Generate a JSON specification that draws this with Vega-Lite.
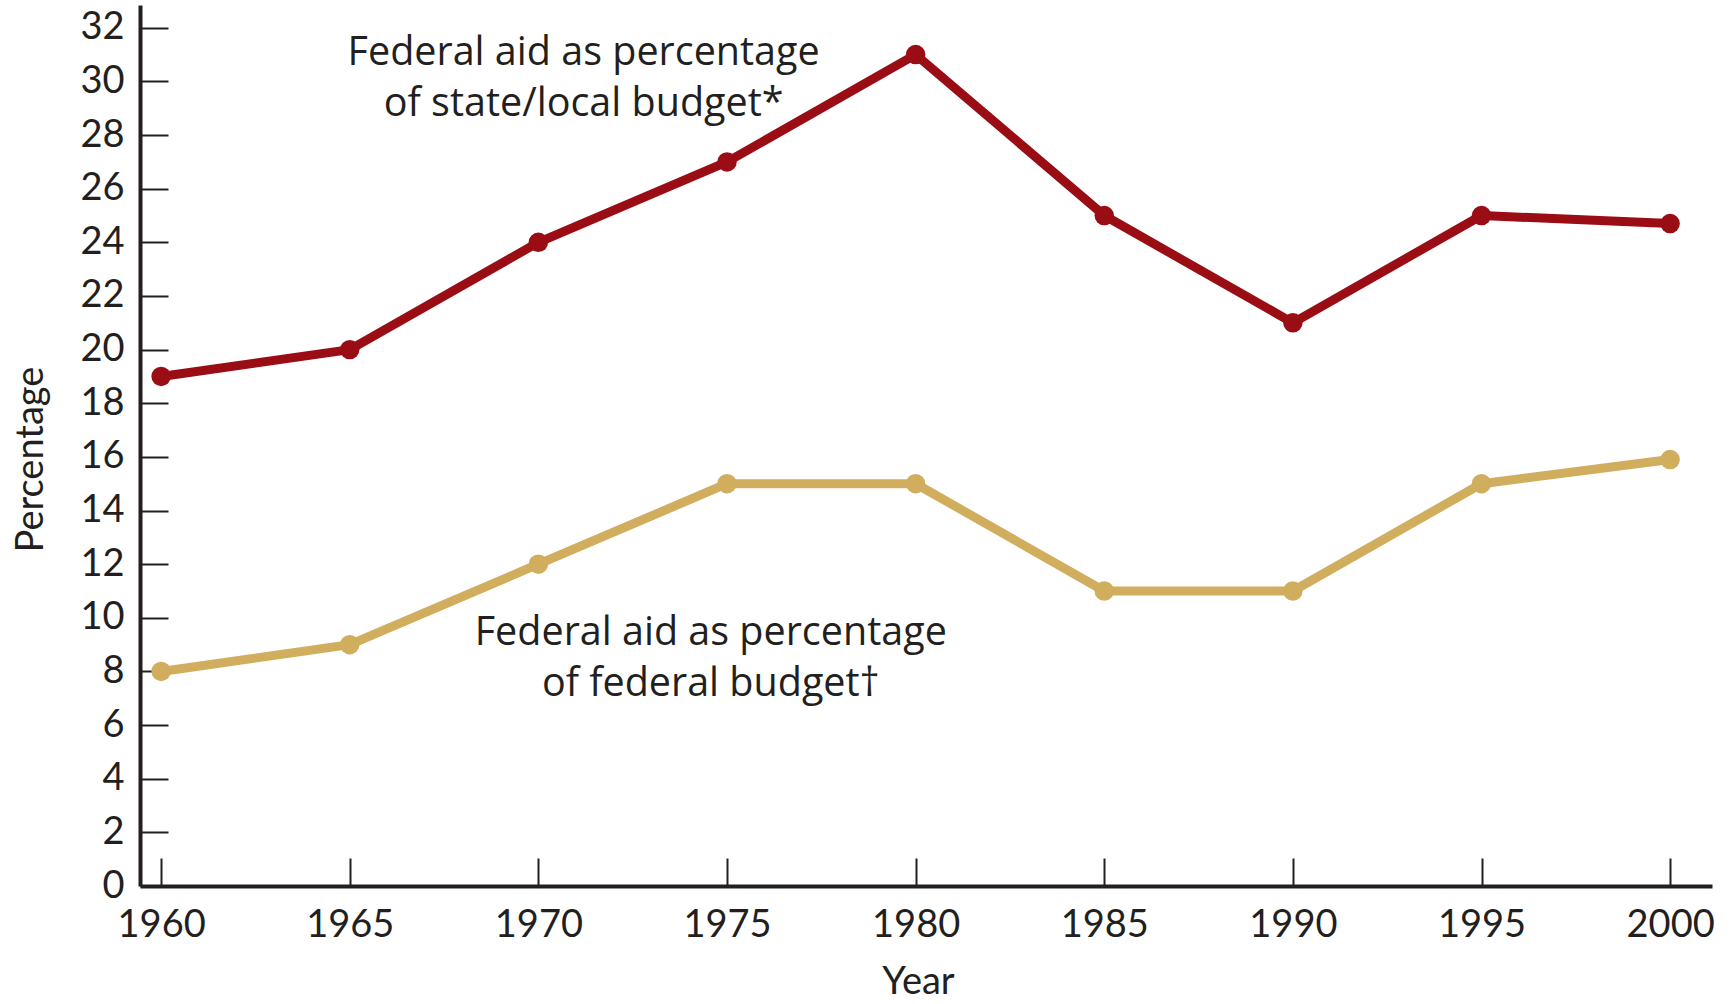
{
  "$schema": "https://vega.github.io/schema/vega-lite/v6.json",
  "autosize": {"type": "none"},
  "padding": {"left": 140, "top": 5, "right": 23, "bottom": 118},
  "width": 1572,
  "height": 881,
  "background": "white",
  "config": {
    "view": {"stroke": null},
    "font": "Lato",
    "axis": {"grid": false}
  },
  "datasets": {
    "series": [
      {"year": 1960, "pct": 19, "series": "state"},
      {"year": 1965, "pct": 20, "series": "state"},
      {"year": 1970, "pct": 24, "series": "state"},
      {"year": 1975, "pct": 27, "series": "state"},
      {"year": 1980, "pct": 31, "series": "state"},
      {"year": 1985, "pct": 25, "series": "state"},
      {"year": 1990, "pct": 21, "series": "state"},
      {"year": 1995, "pct": 25, "series": "state"},
      {"year": 2000, "pct": 24.7, "series": "state"},
      {"year": 1960, "pct": 8, "series": "federal"},
      {"year": 1965, "pct": 9, "series": "federal"},
      {"year": 1970, "pct": 12, "series": "federal"},
      {"year": 1975, "pct": 15, "series": "federal"},
      {"year": 1980, "pct": 15, "series": "federal"},
      {"year": 1985, "pct": 11, "series": "federal"},
      {"year": 1990, "pct": 11, "series": "federal"},
      {"year": 1995, "pct": 15, "series": "federal"},
      {"year": 2000, "pct": 15.9, "series": "federal"}
    ],
    "labels": [
      {"year": 1971.2, "pct": 31.05, "label": "Federal aid as percentage\nof state/local budget*"},
      {"year": 1974.57, "pct": 9.45, "label": "Federal aid as percentage\nof federal budget†"}
    ]
  },
  "encoding": {
    "x": {
      "field": "year", "type": "quantitative",
      "scale": {"domain": [1959.44, 2001.11], "nice": false, "zero": false},
      "axis": {
        "title": "Year",
        "values": [1960, 1965, 1970, 1975, 1980, 1985, 1990, 1995, 2000],
        "format": "d",
        "domainColor": "#231f20", "domainWidth": 4,
        "tickColor": "#231f20", "tickWidth": 2, "tickSize": -28,
        "labelFont": "Lato", "labelFontSize": 38, "labelColor": "#231f20",
        "labelPadding": 48, "labelFlush": false,
        "titleFont": "Lato", "titleFontSize": 38, "titleFontWeight": "normal", "titleColor": "#231f20",
        "titleX": 778, "titleY": 96, "titleBaseline": "middle"
      }
    },
    "y": {
      "field": "pct", "type": "quantitative",
      "scale": {"domain": [0, 32.85], "nice": false},
      "axis": {
        "title": "Percentage",
        "values": [0, 2, 4, 6, 8, 10, 12, 14, 16, 18, 20, 22, 24, 26, 28, 30, 32],
        "domainColor": "#231f20", "domainWidth": 4,
        "tickColor": "#231f20", "tickWidth": 2, "tickSize": -28,
        "labelFont": "Lato", "labelFontSize": 38, "labelColor": "#231f20",
        "labelPadding": 44, "labelFlush": false,
        "titleFont": "Lato", "titleFontSize": 38, "titleFontWeight": "normal", "titleColor": "#231f20",
        "titleAngle": -90, "titleX": -109, "titleY": 454, "titleBaseline": "middle", "titleAlign": "center"
      }
    }
  },
  "layer": [
    {
      "data": {"name": "series"},
      "mark": {"type": "line", "strokeWidth": 9, "strokeJoin": "round", "strokeCap": "round"},
      "encoding": {
        "color": {"field": "series", "type": "nominal", "scale": {"domain": ["state", "federal"], "range": ["#9b0d14", "#d1ad5e"]}, "legend": null}
      }
    },
    {
      "data": {"name": "series"},
      "mark": {"type": "point", "filled": true, "size": 380, "opacity": 1, "shape": "circle"},
      "encoding": {
        "color": {"field": "series", "type": "nominal", "scale": {"domain": ["state", "federal"], "range": ["#9b0d14", "#d1ad5e"]}, "legend": null}
      }
    },
    {
      "data": {"name": "labels"},
      "mark": {"type": "text", "font": "Open Sans", "fontSize": 39.5, "color": "#231f20", "align": "center", "baseline": "middle", "lineBreak": "\n", "lineHeight": 51},
      "encoding": {"text": {"field": "label"}}
    }
  ]
}
